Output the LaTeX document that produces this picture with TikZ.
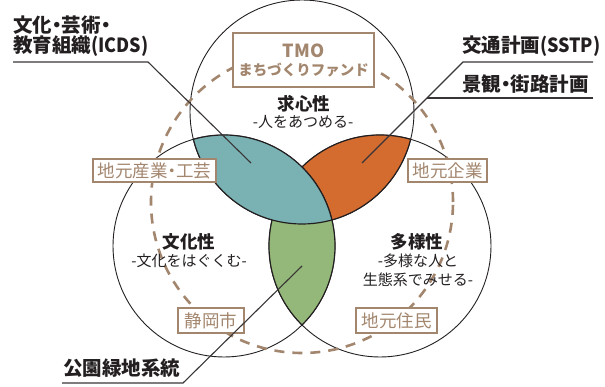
\documentclass[tikz,border=0pt]{standalone}
\usepackage{fontspec}
\setmainfont{Noto Sans CJK JP}
\definecolor{tealc}{RGB}{122,178,180}
\definecolor{orangec}{RGB}{212,108,48}
\definecolor{greenc}{RGB}{148,184,122}
\definecolor{brownc}{RGB}{163,134,110}
\definecolor{ink}{RGB}{35,31,32}
\newcommand\nkg{\kern-0.25em・\kern-0.25em}
\newcommand\narrowlatin[1]{\scalebox{0.92}[1]{#1}}
\begin{document}
\begin{tikzpicture}[x=1pt,y=-1pt,
  circ/.style={draw=ink,line width=0.9pt},
  lensline/.style={draw=ink,line width=1.2pt},
  dashring/.style={draw=brownc,line width=2.6pt,dash pattern=on 10pt off 8pt},
  bbox/.style={draw=brownc,line width=2.6pt,fill=white,text=brownc,inner sep=0pt,font=\fontsize{17.5}{19}\selectfont},
  label/.style={text=ink,inner sep=0pt,anchor=west,font=\fontsize{19.5}{21}\selectfont\bfseries},
  title/.style={text=ink,inner sep=0pt,font=\fontsize{17.5}{19}\selectfont\bfseries},
  sub/.style={text=ink,inner sep=0pt,align=center,font=\fontsize{15}{19}\selectfont},
  leader/.style={draw=ink!90,line width=1.1pt}]
\useasboundingbox (0,0) rectangle (605,387);
\coordinate (cT) at (302,112);
\coordinate (cL) at (224,246);
\coordinate (cR) at (380,246);
\coordinate (cD) at (302,202);
% circles
\draw[circ] (cT) circle[radius=112pt];
\draw[circ] (cL) circle[radius=111pt];
\draw[circ] (cR) circle[radius=111pt];
% dashed ring
\draw[dashring] (cD) circle[radius=151pt];
% orange lens: top & right
\begin{scope}\clip (cT) circle[radius=112pt]; \fill[orangec] (cR) circle[radius=111pt]; \draw[lensline] (cR) circle[radius=111pt];\end{scope}
\begin{scope}\clip (cR) circle[radius=111pt]; \draw[lensline] (cT) circle[radius=112pt];\end{scope}
% green lens: left & right
\begin{scope}\clip (cL) circle[radius=111pt]; \fill[greenc] (cR) circle[radius=111pt]; \draw[lensline] (cR) circle[radius=111pt];\end{scope}
\begin{scope}\clip (cR) circle[radius=111pt]; \draw[lensline] (cL) circle[radius=111pt];\end{scope}
% teal lens: top & left
\begin{scope}\clip (cT) circle[radius=112pt]; \fill[tealc] (cL) circle[radius=111pt]; \draw[lensline] (cL) circle[radius=111pt];\end{scope}
\begin{scope}\clip (cL) circle[radius=111pt]; \draw[lensline] (cT) circle[radius=112pt];\end{scope}
% boxes
\node[bbox,minimum width=141pt,minimum height=54pt,align=center] (tmo) at (303.5,60)
  {\fontsize{18}{19}\selectfont\bfseries TMO\\[-1pt]\fontsize{14.5}{17}\selectfont\bfseries まちづくりファンド};
\node[bbox,minimum width=123pt,minimum height=23pt] (sangyo) at (154.5,170.5) {地元産業\nkg 工芸};
\node[bbox,minimum width=79pt,minimum height=23pt] (kigyo) at (447.5,170.5) {地元企業};
\node[bbox,minimum width=66pt,minimum height=25pt] (shizuoka) at (211,320.5) {静岡市};
\node[bbox,minimum width=81pt,minimum height=25pt] (jumin) at (396.5,320.5) {地元住民};
% inner texts
\node[title] (kyu) at (304,104) {求心性};
\node[sub] (kyus) at (303,122) {-人をあつめる-};
\node[title] (bun) at (189,242) {文化性};
\node[sub] (buns) at (189,261) {-文化をはぐくむ-};
\node[title] (ta) at (417,242) {多様性};
\node[sub] (tas) at (418,270.5) {-多様な人と\\生態系でみせる-};
% outer labels
\node[label] (l1a) at (13,25) {文化\nkg 芸術\nkg};
\node[label] (l1b) at (13,46) {教育組織\narrowlatin{(ICDS)}};
\node[label] (l2) at (462,46) {交通計画\narrowlatin{(SSTP)}};
\node[label] (l3) at (462,84) {景観\nkg 街路計画};
\node[label] (l4) at (63,368) {公園緑地系統};
% leaders
\coordinate (u1s) at (13,62); \coordinate (u1e) at (148,62); \coordinate (u1t) at (251,163);
\coordinate (u2s) at (593,62); \coordinate (u2e) at (463,62); \coordinate (u2t) at (362,163);
\coordinate (u3s) at (593,98); \coordinate (u3e) at (427,98);
\coordinate (u4s) at (62,383); \coordinate (u4e) at (183,383); \coordinate (u4t) at (302,266);
\draw[leader] (u1s) -- (u1e) -- (u1t);
\draw[leader] (u2s) -- (u2e) -- (u2t);
\draw[leader] (u3s) -- (u3e);
\draw[leader] (u4s) -- (u4e) -- (u4t);
\end{tikzpicture}
\end{document}
